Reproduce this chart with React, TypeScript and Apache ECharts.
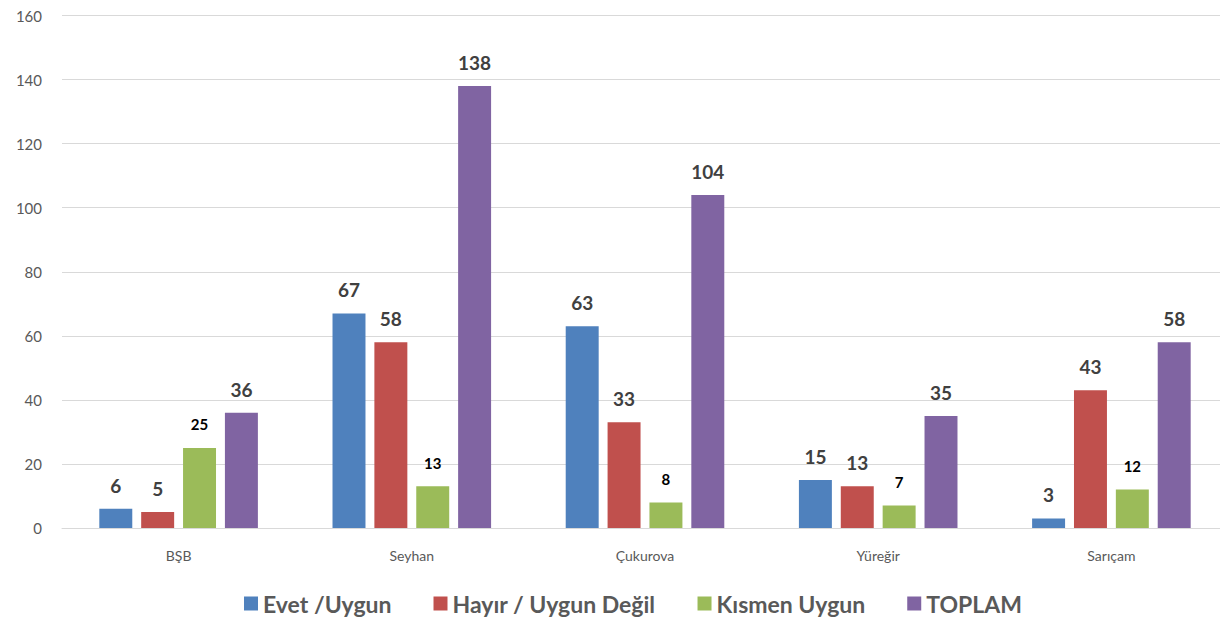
import React, { useEffect, useRef } from "react";
import * as echarts from "echarts";

const categories = ["BŞB", "Seyhan", "Çukurova", "Yüreğir", "Sarıçam"];
const seriesNames = ["Evet /Uygun", "Hayır / Uygun Değil", "Kısmen Uygun", "TOPLAM"];
const evet = [6, 67, 63, 15, 3];
const hayir = [5, 58, 33, 13, 43];
const kismen = [25, 13, 8, 7, 12];
const toplam = [36, 138, 104, 35, 58];
const colors = ["#4f81bd", "#c0504d", "#9bbb59", "#8064a2"];

export default function App() {
  const ref = useRef<HTMLDivElement>(null);
  useEffect(() => {
    if (!ref.current) return;
    const chart = echarts.init(ref.current, null, { renderer: "svg" });
    const font = "Lato, 'Open Sans', sans-serif";
    const data = [evet, hayir, kismen, toplam];
    chart.setOption({
      animation: false,
      textStyle: { fontFamily: font },
      grid: { left: 54, right: 0, top: 6, bottom: 96, containLabel: false },
      legend: {
        bottom: 4,
        left: 231,
        itemWidth: 14,
        itemHeight: 14,
        itemGap: 42,
        icon: "rect",
        textStyle: { fontSize: 23, fontWeight: "bold", color: "#595959", fontFamily: font },
        data: seriesNames,
      },
      xAxis: {
        type: "category",
        data: categories,
        axisLine: { lineStyle: { color: "#d9d9d9" } },
        axisTick: { show: false },
        axisLabel: { fontSize: 14, color: "#595959", margin: 20, fontFamily: font },
      },
      yAxis: {
        type: "value",
        min: 0,
        max: 160,
        interval: 20,
        axisLine: { show: false },
        axisTick: { show: false },
        splitLine: { lineStyle: { color: "#d9d9d9" } },
        axisLabel: { fontSize: 15, color: "#595959", margin: 20, fontFamily: font },
      },
      series: seriesNames.map((name, i) => ({
        name,
        type: "bar",
        data: data[i],
        barGap: "27%",
        barCategoryGap: "32%",
        itemStyle: { color: colors[i] },
        label: {
          show: true,
          position: "top",
          distance: i === 2 ? 16 : 14,
          fontFamily: font,
          fontWeight: "bold",
          fontSize: i === 2 ? 15 : 19,
          color: i === 2 ? "#000000" : "#404040",
        },
      })),
    });
    return () => chart.dispose();
  }, []);
  return <div ref={ref} style={{ width: 1220, height: 616 }} />;
}
